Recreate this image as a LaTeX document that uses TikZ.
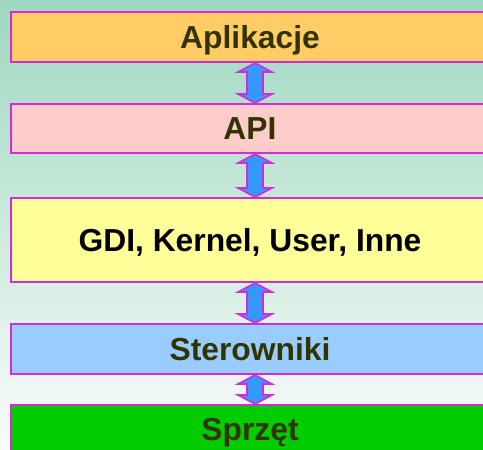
\documentclass[tikz,border=0pt]{standalone}
\usepackage{fontspec}
\setmainfont{Liberation Sans}
\usetikzlibrary{calc}

\definecolor{bgtop}{HTML}{9ED8BF}
\definecolor{bgbot}{HTML}{FAFCFB}
\definecolor{edge}{HTML}{D62AD6}
\definecolor{ink}{HTML}{333300}
\definecolor{appfill}{HTML}{FFCC66}
\definecolor{apifill}{HTML}{FFCCCC}
\definecolor{corefill}{HTML}{FFFF99}
\definecolor{drvfill}{HTML}{99CCFF}
\definecolor{hwfill}{HTML}{00CC00}
\definecolor{arrfill}{HTML}{3399FF}

\tikzset{
  layer/.style={draw=edge, line width=2bp, inner sep=0pt,
    minimum width=478bp, text height=22.5bp, text depth=0pt,
    font=\fontsize{31.8bp}{38bp}\selectfont\bfseries, text=ink},
  arr/.style={fill=arrfill, draw=edge, line width=1.6bp, line join=miter},
}

% double-headed block arrow between two stacked layers
\newcommand\linkarrow[3]{%
  \coordinate (#3t) at ([xshift=5bp]#1.south);
  \coordinate (#3b) at ([xshift=5bp]#2.north);
  \filldraw[arr] (#3t)
    -- ([xshift=17bp,yshift=-9bp]#3t) -- ([xshift=8bp,yshift=-9bp]#3t)
    -- ([xshift=8bp,yshift=9bp]#3b) -- ([xshift=17bp,yshift=9bp]#3b)
    -- (#3b)
    -- ([xshift=-17bp,yshift=9bp]#3b) -- ([xshift=-8bp,yshift=9bp]#3b)
    -- ([xshift=-8bp,yshift=-9bp]#3t) -- ([xshift=-17bp,yshift=-9bp]#3t)
    -- cycle;}

\begin{document}
\begin{tikzpicture}[x=1bp, y=-1bp]
  \useasboundingbox (0,0) rectangle (483,450);
  \clip (0,0) rectangle (483,450);
  \shade[top color=bgtop, bottom color=bgbot] (0,0) rectangle (483,450);

  \node[layer, fill=appfill,  minimum height=50bp] (app) at (250,37)    {Aplikacje};
  \node[layer, fill=apifill,  minimum height=49bp] (api) at (250,128.5) {API};
  \node[layer, fill=corefill, minimum height=84bp, text=black] (core) at (250,240) {GDI, Kernel, User, Inne};
  \node[layer, fill=drvfill,  minimum height=50bp] (drv) at (250,349)   {Sterowniki};
  \node[layer, fill=hwfill,   minimum height=48bp] (hw)  at (250,429)   {Sprzęt};

  \linkarrow{app}{api}{a1}
  \linkarrow{api}{core}{a2}
  \linkarrow{core}{drv}{a3}
  \linkarrow{drv}{hw}{a4}
\end{tikzpicture}
\end{document}
